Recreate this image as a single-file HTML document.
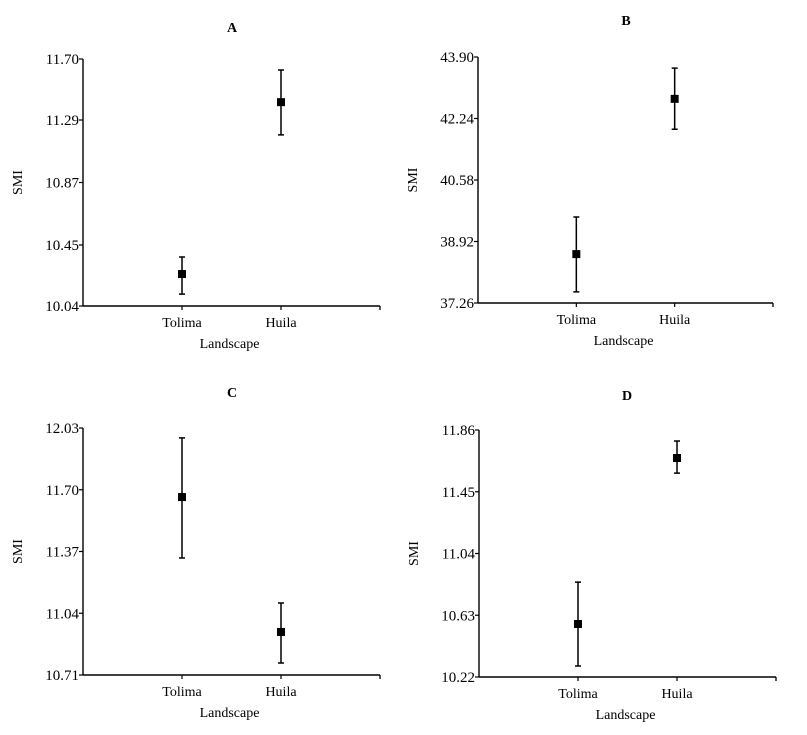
<!DOCTYPE html>
<html><head><meta charset="utf-8"><style>
html,body{margin:0;padding:0;background:#fff;}
svg{display:block;font-family:"Liberation Serif",serif;}
</style></head><body>
<svg id="chart" width="807" height="735"></svg>
<script>
const categories = ["Tolima","Huila"];
const titles = ["A","B","C","D"];
const tickLabelsA = ["10.04","10.45","10.87","11.29","11.70"];
const tickLabelsB = ["37.26","38.92","40.58","42.24","43.90"];
const tickLabelsC = ["10.71","11.04","11.37","11.70","12.03"];
const tickLabelsD = ["10.22","10.63","11.04","11.45","11.86"];
const meanA = [10.255, 11.41];
const upperA = [10.369, 11.626];
const lowerA = [10.12, 11.19];
const meanB = [38.58, 42.77];
const upperB = [39.58, 43.60];
const lowerB = [37.56, 41.95];
const meanC = [11.661, 10.94];
const upperC = [11.977, 11.095];
const lowerC = [11.335, 10.774];
const meanD = [10.572, 11.674];
const upperD = [10.85, 11.787];
const lowerD = [10.293, 11.574];

const panels = [
 {x0:83,yT:59,yB:306,w:297,ticks:tickLabelsA,mean:meanA,up:upperA,lo:lowerA,tx:232,ty:32},
 {x0:478,yT:57,yB:303,w:295,ticks:tickLabelsB,mean:meanB,up:upperB,lo:lowerB,tx:626,ty:25},
 {x0:83,yT:428,yB:675,w:297,ticks:tickLabelsC,mean:meanC,up:upperC,lo:lowerC,tx:232,ty:397},
 {x0:479,yT:430,yB:677,w:297,ticks:tickLabelsD,mean:meanD,up:upperD,lo:lowerD,tx:627,ty:400}
];
const NS="http://www.w3.org/2000/svg";
const svg=document.getElementById('chart');
function mk(tag,attrs,parent,text){const e=document.createElementNS(NS,tag);for(const k in attrs)e.setAttribute(k,attrs[k]);if(text!==undefined)e.textContent=text;parent.appendChild(e);return e;}
panels.forEach((p,i)=>{
  const g=mk('g',{},svg);
  
  
  const vmin=parseFloat(p.ticks[0]),vmax=parseFloat(p.ticks[p.ticks.length-1]);
  const y=v=>p.yB-(v-vmin)/(vmax-vmin)*(p.yB-p.yT);
  const x=j=>p.x0+p.w*(j+1)/3;
  const t=mk('text',{x:p.tx,y:p.ty,'text-anchor':'middle','font-size':14,'font-weight':'bold'},g,titles[i]);
  
  
  const ya=mk('line',{x1:p.x0,y1:p.yT,x2:p.x0,y2:p.yB,stroke:'#000','stroke-width':1.4},g);
  
  
  const xa=mk('line',{x1:p.x0,y1:p.yB,x2:p.x0+p.w,y2:p.yB,stroke:'#000','stroke-width':1.4},g);
  
  
  mk('line',{x1:p.x0+p.w,y1:p.yB,x2:p.x0+p.w,y2:p.yB+4,stroke:'#000','stroke-width':1.3},g);
  p.ticks.forEach(tl=>{
    const yy=y(parseFloat(tl));
    mk('line',{x1:p.x0-4,y1:yy,x2:p.x0,y2:yy,stroke:'#000','stroke-width':1.2},g);
    const tt=mk('text',{x:p.x0-4,y:yy+5,'text-anchor':'end','font-size':15},g,tl);
    
    
  });
  categories.forEach((c,j)=>{
    const xx=x(j);
    mk('line',{x1:xx,y1:p.yB,x2:xx,y2:p.yB+4,stroke:'#000','stroke-width':1.2},g);
    const ct=mk('text',{x:xx,y:p.yB+21,'text-anchor':'middle','font-size':14},g,c);
    
    
    const eb=mk('path',{d:`M${xx-3},${y(p.up[j])}H${xx+3}M${xx},${y(p.up[j])}V${y(p.lo[j])}M${xx-3},${y(p.lo[j])}H${xx+3}`,stroke:'#000','stroke-width':1.5,fill:'none'},g);
    
    
    const pt=mk('rect',{x:xx-4,y:y(p.mean[j])-4,width:8,height:8,fill:'#000'},g);
    
    
  });
  const xl=mk('text',{x:p.x0+p.w/2-2,y:p.yB+42,'text-anchor':'middle','font-size':14},g,'Landscape');
  
  
  const cy=(p.yT+p.yB)/2, lx=p.x0-61;
  const yl=mk('text',{x:lx,y:cy,'text-anchor':'middle','font-size':14,transform:`rotate(-90 ${lx} ${cy})`},g,'SMI');
  
  
});
</script>
</body></html>
